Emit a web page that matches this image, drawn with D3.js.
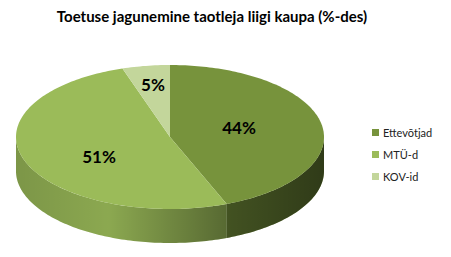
<!DOCTYPE html>
<html>
<head>
<meta charset="utf-8">
<script src="https://cdn.jsdelivr.net/npm/d3@7"></script>
<style>
  body { margin: 0; background: #fff; }
  text { font-family: Lato, "Open Sans", sans-serif; }
</style>
</head>
<body>
<svg id="chart" width="451" height="257"></svg>
<script>
var categories = ['Ettevõtjad', 'MTÜ-d', 'KOV-id'];
var values = [44, 51, 5];
var labels = ['44%', '51%', '5%'];
var colors = ['#77933c', '#9bbb59', '#c3d69b'];

var W = 451, H = 257;
var cx = 170, cy = 137, rx = 154, ry = 72, depth = 34;

var svg = d3.select('#chart');
var defs = svg.append('defs');

// shading for the outer wall, left to right across the pie
var shade = defs.append('linearGradient')
    .attr('id', 'wallShade')
    .attr('gradientUnits', 'userSpaceOnUse')
    .attr('x1', cx - rx).attr('y1', 0)
    .attr('x2', cx + rx).attr('y2', 0);
shade.append('stop').attr('offset', '0').attr('stop-color', '#000').attr('stop-opacity', 0.2);
shade.append('stop').attr('offset', '0.3').attr('stop-color', '#000').attr('stop-opacity', 0.1);
shade.append('stop').attr('offset', '0.7').attr('stop-color', '#000').attr('stop-opacity', 0.45);
shade.append('stop').attr('offset', '1').attr('stop-color', '#000').attr('stop-opacity', 0.6);

var pie = d3.pie().sort(null).value(function(d) { return d; });
var arcs = pie(values);

function pt(a, dy) {
    return [cx + rx * Math.sin(a), cy - ry * Math.cos(a) + (dy || 0)];
}

function topPath(d) {
    var p = d3.path();
    p.moveTo(cx, cy);
    var n = Math.max(2, Math.ceil((d.endAngle - d.startAngle) / 0.02));
    for (var i = 0; i <= n; i++) {
        var q = pt(d.startAngle + (d.endAngle - d.startAngle) * i / n);
        p.lineTo(q[0], q[1]);
    }
    p.closePath();
    return p.toString();
}

function wallPath(d) {
    var s = Math.max(d.startAngle, Math.PI / 2);
    var e = Math.min(d.endAngle, Math.PI * 1.5);
    if (e <= s) return null;
    var p = d3.path();
    var n = Math.max(2, Math.ceil((e - s) / 0.02));
    var i, q;
    for (i = 0; i <= n; i++) {
        q = pt(s + (e - s) * i / n);
        if (i == 0) p.moveTo(q[0], q[1]); else p.lineTo(q[0], q[1]);
    }
    for (i = n; i >= 0; i--) {
        q = pt(s + (e - s) * i / n, depth);
        p.lineTo(q[0], q[1]);
    }
    p.closePath();
    return p.toString();
}

var walls = arcs.filter(function(d) { return wallPath(d) !== null; });

svg.selectAll('path.wall')
    .data(walls)
    .enter().append('path')
    .attr('class', 'wall')
    .attr('d', wallPath)
    .attr('fill', function(d) { return colors[d.index]; });

svg.selectAll('path.wallShade')
    .data(walls)
    .enter().append('path')
    .attr('class', 'wallShade')
    .attr('d', wallPath)
    .attr('fill', 'url(#wallShade)');

svg.selectAll('path.top')
    .data(arcs)
    .enter().append('path')
    .attr('class', 'top')
    .attr('d', topPath)
    .attr('fill', function(d) { return colors[d.index]; });

// data labels
var labelPos = [[239, 128], [99, 157], [153, 85]];
svg.selectAll('text.lbl')
    .data(arcs)
    .enter().append('text')
    .attr('class', 'lbl')
    .attr('x', function(d) { return labelPos[d.index][0]; })
    .attr('y', function(d) { return labelPos[d.index][1]; })
    .attr('text-anchor', 'middle')
    .attr('dy', '0.35em')
    .style('font-size', '17px')
    .style('font-weight', 'bold')
    .attr('fill', '#000')
    .text(function(d) { return labels[d.index]; });

// title
svg.append('text')
    .attr('x', 212)
    .attr('y', 22)
    .attr('text-anchor', 'middle')
    .style('font-size', '15px')
    .style('font-weight', 'bold')
    .attr('fill', '#000')
    .text('Toetuse jagunemine taotleja liigi kaupa (%-des)');

// legend
var legend = svg.selectAll('g.leg')
    .data(categories)
    .enter().append('g')
    .attr('class', 'leg')
    .attr('transform', function(d, i) { return 'translate(372,' + (133 + i * 22) + ')'; });

legend.append('rect')
    .attr('x', 0).attr('y', -4)
    .attr('width', 7).attr('height', 7)
    .attr('fill', function(d, i) { return colors[i]; });

legend.append('text')
    .attr('x', 11)
    .attr('y', 0)
    .attr('dy', '0.35em')
    .style('font-size', '11px')
    .attr('fill', '#222')
    .text(function(d) { return d; });
</script>
</body>
</html>
